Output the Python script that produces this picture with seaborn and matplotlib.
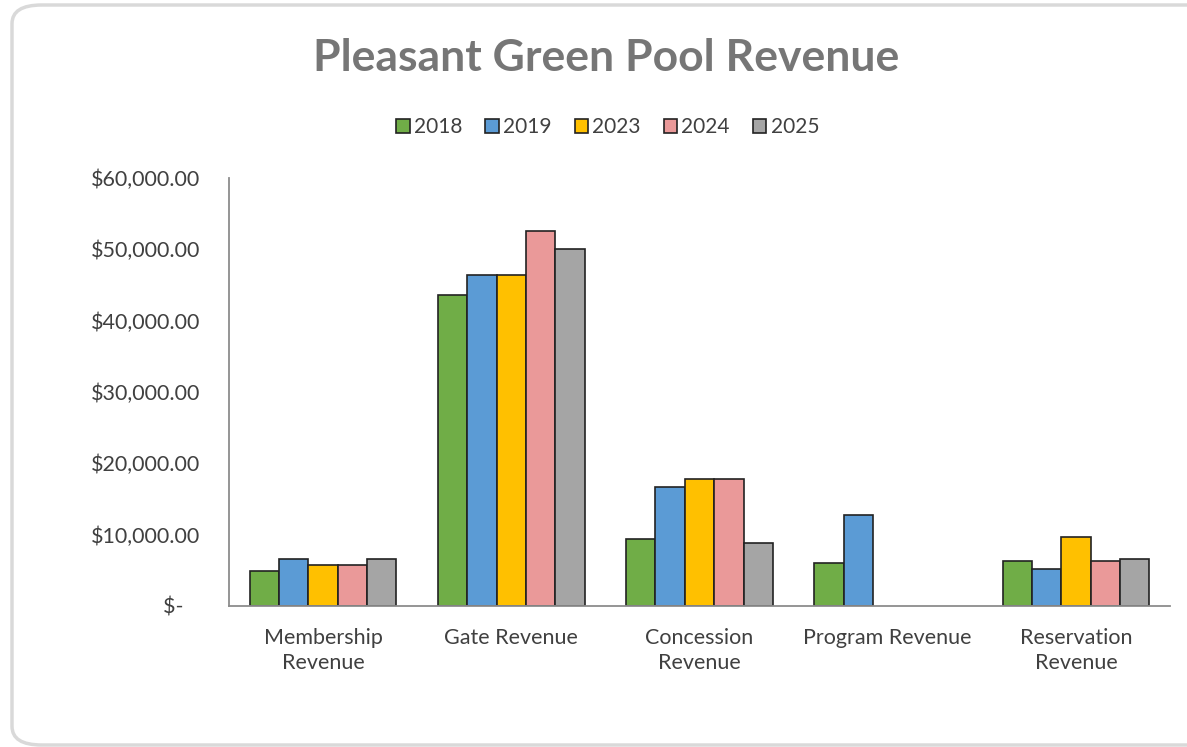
import numpy as np
import pandas as pd
import matplotlib
matplotlib.use("Agg")
from matplotlib import pyplot as plt
from matplotlib.patches import FancyBboxPatch, Patch
import seaborn as sns

categories = ["Membership\nRevenue", "Gate Revenue", "Concession\nRevenue",
              "Program Revenue", "Reservation\nRevenue"]
years = ["2018", "2019", "2023", "2024", "2025"]

rev_2018 = [4900, 43600, 9400, 6000, 6300]
rev_2019 = [6600, 46400, 16650, 12750, 5250]
rev_2023 = [5750, 46400, 17750, np.nan, 9680]
rev_2024 = [5750, 52600, 17750, np.nan, 6300]
rev_2025 = [6600, 50050, 8850, np.nan, 6600]

colors = ["#70AD47", "#5B9BD5", "#FFC000", "#EA9999", "#A5A5A5"]
y_ticks = [0, 10000, 20000, 30000, 40000, 50000, 60000]
y_labels = ["$-   ", "$10,000.00", "$20,000.00", "$30,000.00",
            "$40,000.00", "$50,000.00", "$60,000.00"]

rows = []
for yr, vals in zip(years, [rev_2018, rev_2019, rev_2023, rev_2024, rev_2025]):
    for cat, v in zip(categories, vals):
        rows.append({"category": cat, "year": yr, "revenue": v})
df = pd.DataFrame(rows)

sns.set_style("white")
plt.rcParams["font.family"] = ["Lato", "DejaVu Sans"]

fig = plt.figure(figsize=(11.87, 7.47), dpi=100, facecolor="white")

# card border
card = FancyBboxPatch((12 / 1187, 1 - 745 / 747), 1.2, 740 / 747,
                      boxstyle="round,pad=0,rounding_size=0.025",
                      transform=fig.transFigure, facecolor="none",
                      edgecolor="#D9D9D9", linewidth=2.5, zorder=-1)
fig.patches.append(card)

ax = fig.add_axes([0.1929, 0.1888, 0.7928, 0.5729])
ax.set_facecolor("none")

sns.barplot(data=df, x="category", y="revenue", hue="year",
            order=categories, hue_order=years, palette=colors, saturation=1,
            width=0.78, edgecolor="#222222", linewidth=1.2,
            errorbar=None, legend=False, ax=ax)

ax.set_xlim(-0.5, 4.5)
ax.set_ylim(0, 60000)
ax.set_yticks(y_ticks)
ax.set_yticklabels(y_labels)
ax.set_xlabel("")
ax.set_ylabel("")
ax.tick_params(axis="both", length=0, labelsize=15.5, colors="#404040")
ax.tick_params(axis="x", pad=16)
ax.tick_params(axis="y", pad=21)
for lbl in ax.get_xticklabels():
    lbl.set_linespacing(1.3)

sns.despine(ax=ax, top=True, right=True)
ax.spines["left"].set_color("#8C8C8C")
ax.spines["bottom"].set_color("#8C8C8C")
ax.spines["left"].set_linewidth(1.3)
ax.spines["bottom"].set_linewidth(1.3)

fig.text(0.511, 0.922, "Pleasant Green Pool Revenue", ha="center", va="center",
         fontsize=32, fontweight="bold", color="#767676")

handles = [Patch(facecolor=c, edgecolor="#222222", linewidth=1.2) for c in colors]
fig.legend(handles, years, loc="center", bbox_to_anchor=(0.512, 0.83), ncol=5,
           frameon=False, fontsize=15, handlelength=0.65, handleheight=0.65,
           handletextpad=0.2, columnspacing=1.1, labelcolor="#404040")

fig.savefig("out.png", dpi=100)
